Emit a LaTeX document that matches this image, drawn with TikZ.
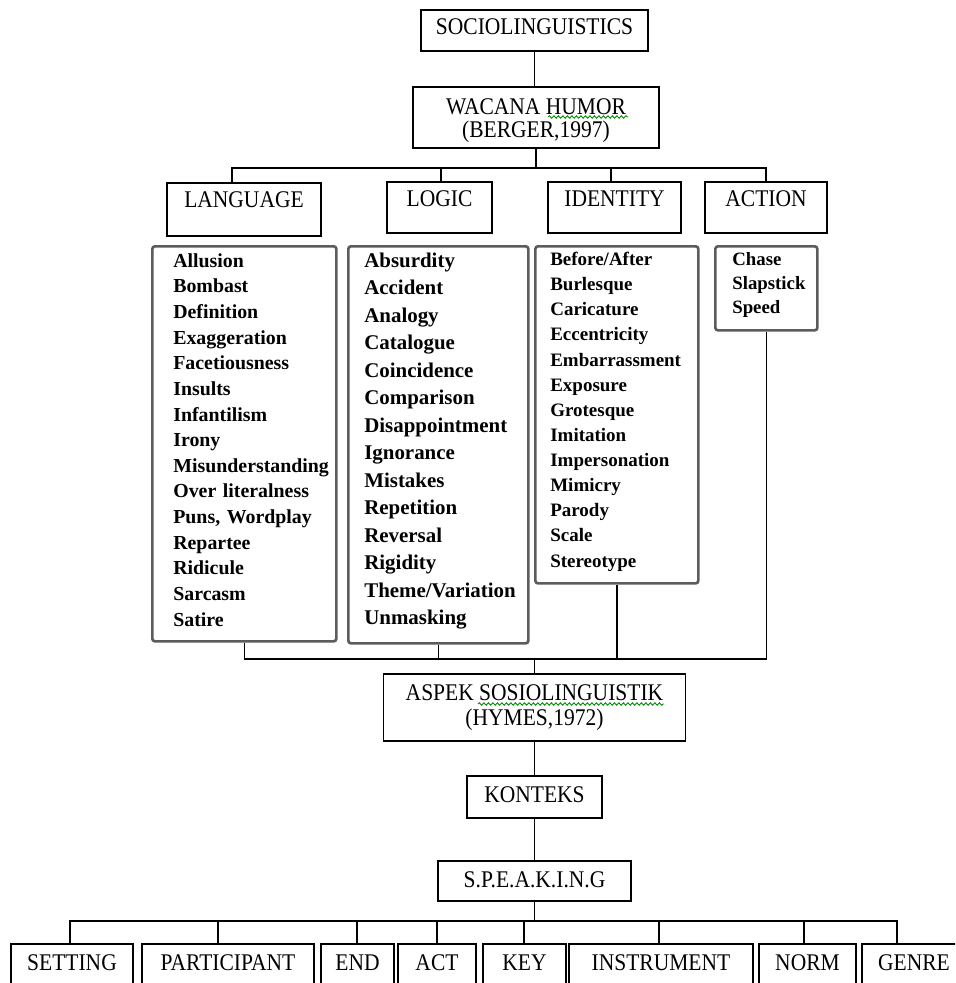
\documentclass[tikz,border=0pt]{standalone}
\usepackage{fontspec}
\setmainfont{Liberation Serif}
\newfontfamily\headfont[FakeStretch=0.9]{Liberation Serif}
\usetikzlibrary{decorations.pathmorphing}

\begin{document}
\begin{tikzpicture}[x=0.2mm,y=-0.2mm,line width=0.8pt,
		box/.style={draw=black,line width=1pt,inner sep=0pt,font=\headfont\fontsize{13.6}{13}\selectfont},
		cat/.style={box,anchor=north,text height=14.2pt},
		bot/.style={box,anchor=north,text height=15.4pt,text depth=11.4pt},
		list/.style={draw=black!64,line width=1.5pt,rounded corners=1.5pt,anchor=north west,align=left,inner ysep=0pt,font=\bfseries\fontsize{11.3}{14.6}\selectfont},
		squig/.style={draw=green!55!black,line width=0.5pt,decorate,decoration={snake,amplitude=0.25mm,segment length=0.9mm}}]
			\useasboundingbox (0,0) rectangle (955,983);
			\clip (0,0) rectangle (955,983);
			\node[box,anchor=north,minimum width=45.4mm,text height=14.2pt,text depth=9.1pt] (SOC) at (534.5,9) {SOCIOLINGUISTICS};
			\node[box,minimum width=49.2mm,minimum height=12.2mm,align=center] (WAC) at (536,117.5) {\rule{0pt}{13pt}WACANA HUMOR\\(BERGER,1997)};
			\node[cat,minimum width=30.8mm,text depth=15.9pt] (LAN) at (244,182) {LANGUAGE};
			\node[cat,minimum width=21mm,text depth=14.8pt] (LOG) at (439.5,181) {LOGIC};
			\node[cat,minimum width=26.6mm,text depth=14.8pt] (IDE) at (614.5,181) {IDENTITY};
			\node[cat,minimum width=24.4mm,text depth=14.8pt] (ACN) at (766,181) {ACTION};
			\node[list,text width=28.4mm,inner xsep=4.2mm,minimum height=79mm] (LANL) at (151,245) {Allusion\\Bombast\\Definition\\Exaggeration\\Facetiousness\\Insults\\Infantilism\\Irony\\Misunderstanding\\Over literalness\\Puns, Wordplay\\Repartee\\Ridicule\\Sarcasm\\Satire\rule[-4.6pt]{0pt}{4.6pt}};
			\node[list,text width=29.6mm,inner xsep=3.2mm,minimum height=79.4mm,font=\bfseries\fontsize{11.9}{15.65}\selectfont] (LOGL) at (347,245) {Absurdity\\Accident\\Analogy\\Catalogue\\Coincidence\\Comparison\\Disappointment\\Ignorance\\Mistakes\\Repetition\\Reversal\\Rigidity\\Theme/Variation\\Unmasking\rule[-6.7pt]{0pt}{6.7pt}};
			\node[list,text width=26.6mm,inner xsep=3mm,minimum height=67.4mm,font=\bfseries\fontsize{10.8}{14.3}\selectfont] (IDEL) at (534,245) {Before/After\\Burlesque\\Caricature\\Eccentricity\\Embarrassment\\Exposure\\Grotesque\\Imitation\\Impersonation\\Mimicry\\Parody\\Scale\\Stereotype\rule[-5.9pt]{0pt}{5.9pt}};
			\node[list,text width=13.6mm,inner xsep=3.4mm,minimum height=16.8mm,font=\bfseries\fontsize{10.7}{13.7}\selectfont] (ACNL) at (714,245) {Chase\\Slapstick\\Speed\rule[-6.2pt]{0pt}{6.2pt}};
			\node[box,minimum width=60.4mm,minimum height=13.4mm,align=center,font=\headfont\fontsize{13.6}{14.5}\selectfont] (ASP) at (534.5,707.5) {ASPEK SOSIOLINGUISTIK\\(HYMES,1972)};
			\node[box,anchor=north,minimum width=27mm,text height=15.4pt,text depth=8.5pt] (KON) at (534.5,775) {KONTEKS};
			\node[box,anchor=north,minimum width=38.6mm,text height=15.4pt,text depth=7.4pt] (SPK) at (534.5,860) {S.P.E.A.K.I.N.G};
			\node[bot,minimum width=24.4mm] (SET) at (72,943) {SETTING};
			\node[bot,minimum width=34.4mm] (PAR) at (228,943) {PARTICIPANT};
			\node[bot,minimum width=14.6mm] (END) at (357.5,943) {END};
			\node[bot,minimum width=15.6mm] (ACT) at (437,943) {ACT};
			\node[bot,minimum width=16.6mm] (KEY) at (524.5,943) {KEY};
			\node[bot,minimum width=36.8mm] (INS) at (661,943) {INSTRUMENT};
			\node[bot,minimum width=19.4mm] (NOR) at (807.5,943) {NORM};
			\node[bot,minimum width=20.8mm] (GEN) at (914,943) {GENRE};
			\coordinate (U1) at (232,168);
			\coordinate (U2) at (441,168);
			\coordinate (U3) at (611,168);
			\coordinate (U4) at (766,168);
			\coordinate (M1) at (243,659);
			\coordinate (B1) at (70,921);
			\coordinate (B2) at (218,921);
			\coordinate (B3) at (357,921);
			\coordinate (B4) at (437,921);
			\coordinate (B5) at (524,921);
			\coordinate (B6) at (659,921);
			\coordinate (B7) at (804,921);
			\coordinate (B8) at (897,921);
			\draw[](SOC.south)--(SOC.south |- WAC.north);
			\draw[](WAC.south)--(WAC.south |- U1);
			\draw[](U1 |- LAN.north)--(U1)--(U4)--(U4 |- ACN.north);
			\draw[](U2)--(U2 |- LOG.north);
			\draw[](U3)--(U3 |- IDE.north);
			\draw[](LANL.south)--(LANL.south |- M1)--(ACNL.south |- M1)--(ACNL.south);
			\draw[](LOGL.south)--(LOGL.south |- M1);
			\draw[](IDEL.south)--(IDEL.south |- M1);
			\draw[](ASP.north)--(ASP.north |- M1);
			\draw[](ASP.south)--(KON.north);
			\draw[](KON.south)--(SPK.north);
			\draw[](SPK.south)--(SPK.south |- B1);
			\draw[](B1 |- SET.north)--(B1)--(B8)--(B8 |- GEN.north);
			\draw[](B2)--(B2 |- PAR.north);
			\draw[](B3)--(B3 |- END.north);
			\draw[](B4)--(B4 |- ACT.north);
			\draw[](B5)--(B5 |- KEY.north);
			\draw[](B6)--(B6 |- INS.north);
			\draw[](B7)--(B7 |- NOR.north);
			\draw[squig](548,117)--(628,117);
			\draw[squig](478,704)--(664,704);
		\end{tikzpicture}
\end{document}
